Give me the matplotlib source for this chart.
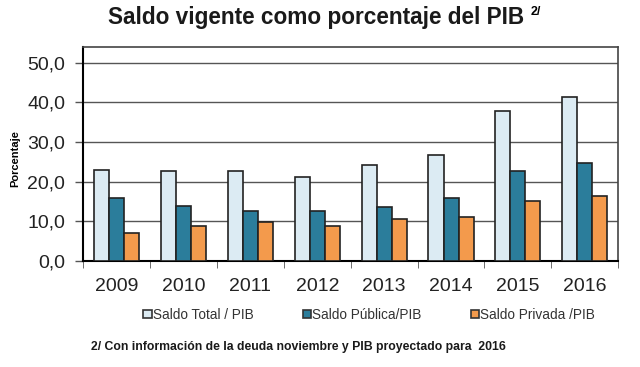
import numpy as np
import matplotlib.pyplot as plt
from matplotlib.patches import Patch

# Data
years = ['2009', '2010', '2011', '2012', '2013', '2014', '2015', '2016']
total = [23.0, 22.6, 22.6, 21.3, 24.1, 26.8, 37.9, 41.3]
publica = [15.8, 13.9, 12.7, 12.5, 13.7, 15.8, 22.6, 24.8]
privada = [7.1, 8.7, 9.8, 8.8, 10.5, 11.0, 15.2, 16.5]
labels = ['Saldo Total / PIB', 'Saldo Pública/PIB', 'Saldo Privada /PIB']
colors = ['#dcebf3', '#2b7d9b', '#f39a4c']

plt.rcParams['font.family'] = ['Liberation Sans', 'DejaVu Sans']

fig = plt.figure(figsize=(6.4, 3.67), dpi=100)
ax = fig.add_axes([0.130, 0.289, 0.836, 0.583])

x = np.arange(len(years))
w = 0.225
for i, vals in enumerate([total, publica, privada]):
    ax.bar(x + (i - 1) * w, vals, w, color=colors[i], edgecolor='#222222',
           linewidth=1.2, zorder=3)

ax.set_xlim(-0.5, len(years) - 0.5)
ax.set_ylim(0, 54)
ax.set_yticks(np.arange(0, 51, 10))
ax.set_yticklabels([f'{v:.1f}'.replace('.', ',') for v in np.arange(0, 51, 10)],
                   fontsize=14, color='#222222')
ax.yaxis.grid(True, color='#555555', linewidth=1.0, zorder=0)
ax.tick_params(axis='y', length=6, width=1, color='#555555', pad=7)

# category ticks at group boundaries
ax.set_xticks(x)
ax.set_xticklabels(years, fontsize=14, color='#222222')
ax.tick_params(axis='x', length=0, pad=12)
ax.set_xticks(np.arange(-0.5, len(years)), minor=True)
ax.tick_params(axis='x', which='minor', length=5, color='#555555', direction='out')

for s in ['top', 'right']:
    ax.spines[s].set_color('#444444')
    ax.spines[s].set_linewidth(1.2)
ax.spines['left'].set_linewidth(1.5)
ax.spines['bottom'].set_linewidth(1.5)

ax.set_ylabel('Porcentaje', fontsize=8, fontweight='bold', labelpad=10)
ax.yaxis.set_label_coords(-0.118, 0.48)

fig.text(0.494, 0.952, 'Saldo vigente como porcentaje del PIB', ha='center',
         va='center', fontsize=16.3, fontweight='bold', color='#1a1a1a')
fig.text(0.829, 0.966, '2/', ha='left', va='center', fontsize=9,
         fontweight='bold')

handles = [Patch(facecolor=c, edgecolor='#333333', linewidth=1.2) for c in colors]
fig.legend(handles, labels, loc='center', bbox_to_anchor=(0.577, 0.142), ncol=3,
           frameon=False, fontsize=9.8, handlelength=0.6, handleheight=0.6,
           handletextpad=0.1, columnspacing=3.6, labelcolor='#333333')

fig.text(0.142, 0.054, '2/ Con información de la deuda noviembre y PIB proyectado para  2016',
         fontsize=8.8, fontweight='bold', ha='left', va='center', color='#1a1a1a')

fig.savefig('out.png', dpi=100)
